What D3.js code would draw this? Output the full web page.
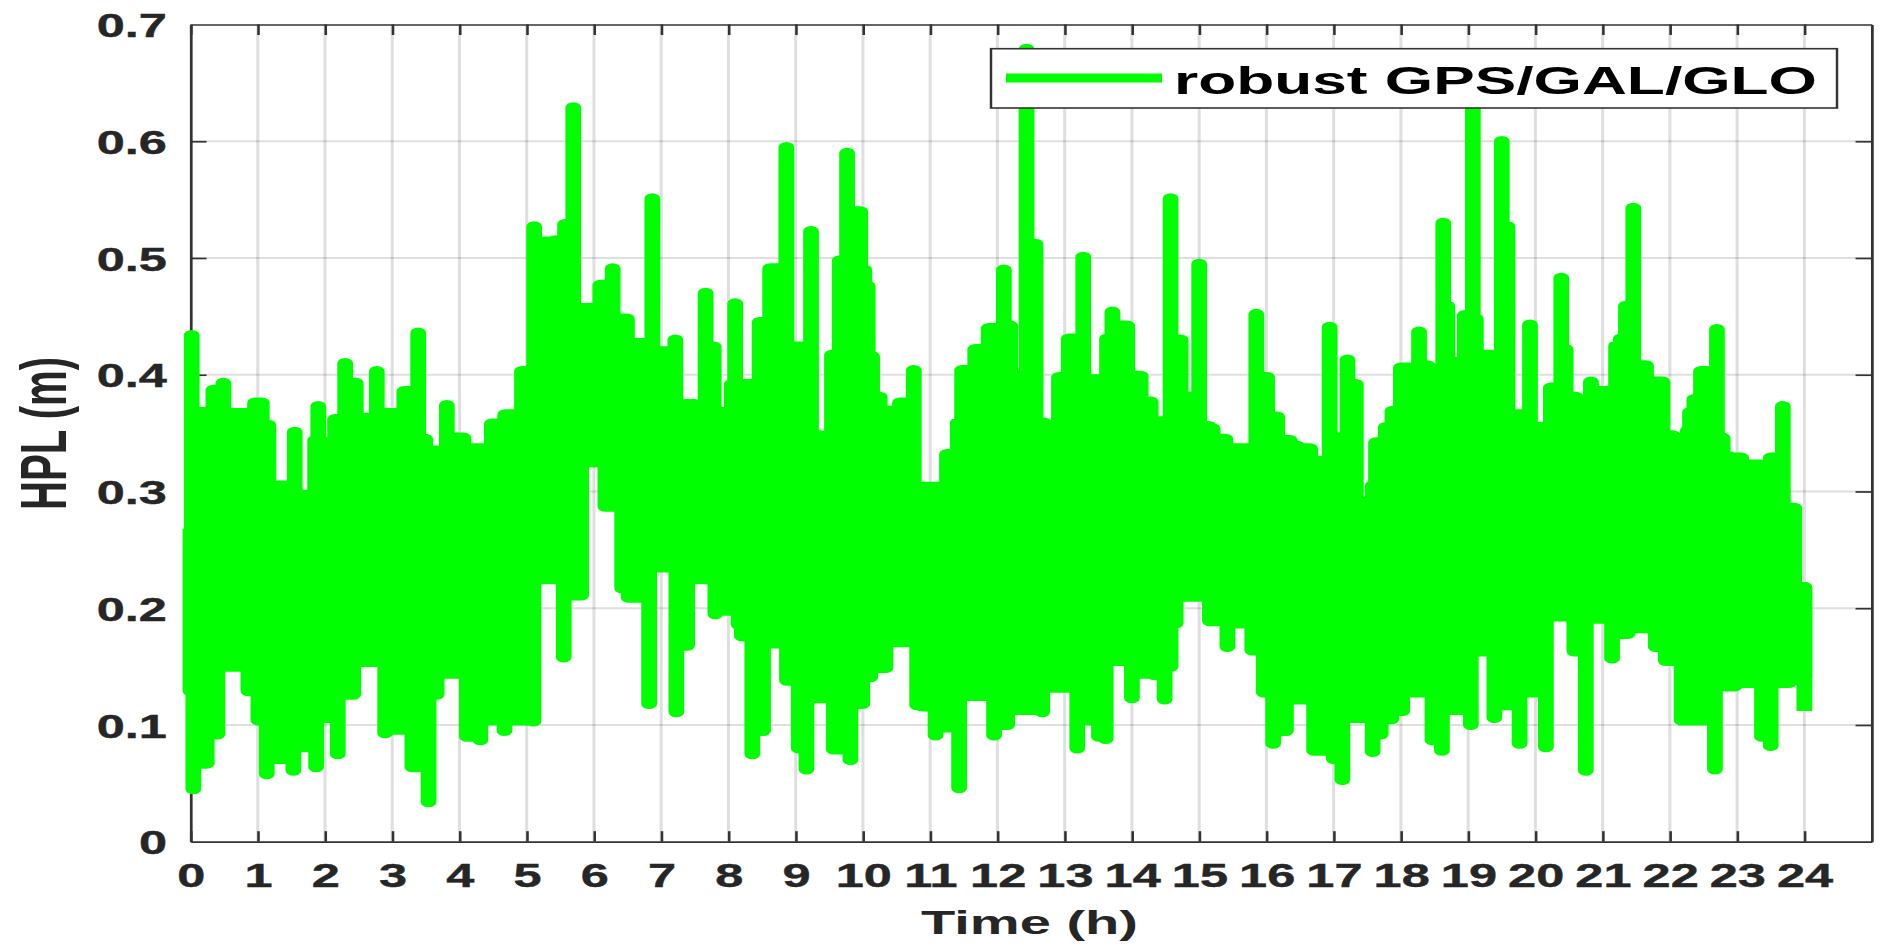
<!DOCTYPE html>
<html><head><meta charset="utf-8">
<script src="https://cdn.jsdelivr.net/npm/d3@7/dist/d3.min.js"></script>
<style>html,body{margin:0;padding:0;background:#fff;overflow:hidden}svg{display:block}</style>
</head><body><div id="chart"></div>
<script>
const peakHours=[0.018,0.201,0.34,0.489,0.737,0.96,1.06,1.158,1.357,1.55,1.68,1.853,1.9,1.977,2.15,2.3,2.458,2.57,2.77,3.02,3.18,3.386,3.49,3.564,3.812,4.06,4.234,4.482,4.68,4.93,5.11,5.25,5.425,5.57,5.692,5.896,6.094,6.278,6.49,6.665,6.868,7.04,7.21,7.385,7.557,7.66,7.78,7.88,8.05,8.1,8.326,8.464,8.62,8.861,9.02,9.228,9.367,9.43,9.54,9.655,9.764,9.96,10.02,10.07,10.136,10.25,10.38,10.55,10.756,11.05,11.25,11.41,11.475,11.67,11.87,12.095,12.19,12.27,12.433,12.567,12.69,12.79,12.915,13.06,13.276,13.46,13.63,13.71,13.93,14.13,14.28,14.427,14.575,14.725,14.85,15.0,15.146,15.2,15.39,15.62,15.85,16.01,16.16,16.35,16.46,16.65,16.86,16.94,17.08,17.205,17.33,17.45,17.63,17.775,17.875,18.0,18.27,18.395,18.495,18.63,18.69,18.866,18.95,19.07,19.115,19.29,19.5,19.585,19.735,19.92,20.06,20.23,20.385,20.45,20.6,20.677,20.826,21.0,21.2,21.27,21.347,21.456,21.645,21.89,22.04,22.155,22.265,22.3,22.364,22.463,22.7,22.785,22.885,23.06,23.346,23.5,23.68,23.85,24.0];
const peakHpl=[0.434,0.368,0.387,0.393,0.367,0.376,0.376,0.357,0.305,0.351,0.297,0.344,0.373,0.342,0.362,0.41,0.393,0.363,0.403,0.367,0.386,0.436,0.345,0.335,0.374,0.346,0.337,0.358,0.366,0.403,0.527,0.514,0.515,0.529,0.629,0.457,0.477,0.491,0.448,0.427,0.551,0.42,0.43,0.367,0.363,0.47,0.424,0.368,0.392,0.461,0.392,0.445,0.491,0.595,0.424,0.523,0.348,0.313,0.417,0.498,0.59,0.54,0.49,0.476,0.416,0.381,0.369,0.376,0.404,0.304,0.332,0.359,0.404,0.422,0.44,0.49,0.442,0.399,0.679,0.512,0.359,0.356,0.398,0.431,0.501,0.396,0.431,0.454,0.442,0.399,0.377,0.36,0.551,0.43,0.381,0.495,0.356,0.354,0.345,0.337,0.452,0.398,0.364,0.344,0.339,0.337,0.326,0.441,0.346,0.413,0.392,0.291,0.342,0.355,0.369,0.406,0.437,0.408,0.405,0.53,0.459,0.411,0.451,0.65,0.448,0.417,0.6,0.527,0.366,0.443,0.355,0.389,0.483,0.422,0.381,0.363,0.394,0.386,0.425,0.431,0.459,0.543,0.408,0.394,0.348,0.306,0.352,0.368,0.379,0.403,0.439,0.346,0.33,0.329,0.323,0.329,0.373,0.286,0.218];
const troughHours=[0.042,0.241,0.4,0.662,0.861,1.01,1.134,1.38,1.53,1.65,1.868,1.977,2.19,2.42,2.66,2.895,3.07,3.3,3.54,3.66,3.91,4.11,4.31,4.43,4.67,4.9,5.1,5.325,5.55,5.81,5.95,6.17,6.42,6.516,6.82,6.99,7.225,7.385,7.57,7.805,8.0,8.15,8.2,8.355,8.514,8.7,8.87,9.045,9.16,9.34,9.566,9.814,9.99,10.11,10.335,10.58,10.806,10.88,11.08,11.19,11.43,11.72,11.95,12.145,12.54,12.666,12.89,13.187,13.31,13.51,13.61,13.88,14.0,14.18,14.33,14.486,14.575,14.65,14.833,15.16,15.42,15.67,15.79,15.96,16.1,16.29,16.485,16.71,16.91,17.0,17.13,17.35,17.58,17.7,17.86,18.02,18.237,18.47,18.61,18.84,19.04,19.165,19.39,19.61,19.765,19.98,20.156,20.43,20.58,20.75,20.95,21.14,21.37,21.645,21.79,21.94,22.175,22.413,22.67,22.96,23.18,23.37,23.5,23.77];
const troughHpl=[0.045,0.067,0.092,0.15,0.129,0.104,0.058,0.071,0.061,0.081,0.064,0.106,0.075,0.126,0.154,0.093,0.096,0.064,0.034,0.126,0.144,0.09,0.087,0.104,0.095,0.104,0.103,0.233,0.158,0.211,0.328,0.287,0.217,0.209,0.118,0.235,0.111,0.168,0.234,0.195,0.198,0.186,0.176,0.075,0.095,0.17,0.138,0.08,0.062,0.123,0.079,0.07,0.118,0.141,0.149,0.171,0.117,0.116,0.091,0.098,0.046,0.125,0.091,0.1,0.113,0.111,0.132,0.08,0.104,0.09,0.088,0.155,0.123,0.144,0.143,0.122,0.15,0.187,0.21,0.189,0.167,0.187,0.164,0.128,0.084,0.095,0.122,0.078,0.078,0.071,0.053,0.106,0.077,0.092,0.105,0.112,0.128,0.087,0.078,0.113,0.1,0.163,0.106,0.117,0.084,0.128,0.081,0.193,0.163,0.061,0.191,0.157,0.178,0.183,0.167,0.155,0.104,0.104,0.062,0.133,0.136,0.09,0.082,0.136];
const firstSample=[0,0.268,0.129];   // hour, top and bottom of the stub at the start of the trace
const lastSample=[24,0.218,0.112];   // hour, top and bottom of the flat end of the trace
// inner edges of the solid band, read hour by hour (upper spikes start at the low edge, lower spikes at the high edge)
const bandLow=[0.195,0.175,0.185,0.185,0.185,0.225,0.325,0.265,0.225,0.205,0.215,0.185,0.195,0.205,0.205,0.215,0.195,0.155,0.195,0.215,0.205,0.215,0.185,0.185,0.14];
const bandHigh=[0.265,0.285,0.295,0.295,0.295,0.335,0.435,0.375,0.335,0.315,0.325,0.295,0.305,0.315,0.315,0.325,0.305,0.265,0.305,0.325,0.315,0.325,0.295,0.295,0.21];
const xTicks=d3.range(0,25);
const yTicks=[0,0.1,0.2,0.3,0.4,0.5,0.6,0.7];
const legendLabel="robust GPS/GAL/GLO";
const xLabel="Time (h)", yLabel="HPL (m)";

const W=1886,H=951,S=1.53; // the whole figure is stretched horizontally by S
const font='"Liberation Sans",Arial,Helvetica,sans-serif', ink='#262626', rule='#333';
const xs=d3.scaleLinear().domain([0,25]).range([190.5/S,1871.6/S]);
const ys=d3.scaleLinear().domain([0,0.7]).range([841.7,24.5]);
const svg=d3.select('#chart').append('svg').attr('width',W).attr('height',H);
svg.append('rect').attr('width',W).attr('height',H).attr('fill','#fff');
const g=svg.append('g').attr('transform',`scale(${S},1)`).attr('font-family',font);

// grid
g.append('g').selectAll('line').data(xTicks.slice(1)).join('line')
 .attr('x1',d=>xs(d)).attr('x2',d=>xs(d)).attr('y1',ys(0)).attr('y2',ys(0.7))
 .attr('stroke','#262626').attr('stroke-opacity',0.15).attr('stroke-width',2);
g.append('g').selectAll('line').data(yTicks.slice(1,-1)).join('line')
 .attr('x1',xs(0)).attr('x2',xs(25)).attr('y1',d=>ys(d)).attr('y2',d=>ys(d))
 .attr('stroke','#262626').attr('stroke-opacity',0.15).attr('stroke-width',2);

// axes
const tl=10.5;
const style=(sel,w)=>{sel.selectAll('.domain').attr('stroke',rule).attr('stroke-width',w);
 sel.selectAll('.tick line').attr('stroke',rule).attr('stroke-width',1.7);};
const axB=g.append('g').attr('transform',`translate(0,${ys(0)})`)
 .call(d3.axisBottom(xs).tickValues(xTicks).tickFormat(d3.format('d')).tickSizeInner(-tl).tickSizeOuter(0));
const axL=g.append('g').attr('transform',`translate(${xs(0)},0)`)
 .call(d3.axisLeft(ys).tickValues(yTicks).tickFormat(d=>d===0?'0':d3.format('.1f')(d)).tickSizeInner(-tl).tickSizeOuter(0));
const axT=g.append('g').attr('transform',`translate(0,${ys(0.7)})`)
 .call(d3.axisTop(xs).tickValues(xTicks).tickFormat('').tickSizeInner(-tl).tickSizeOuter(0));
const axR=g.append('g').attr('transform',`translate(${xs(25)},0)`)
 .call(d3.axisRight(ys).tickValues(yTicks).tickFormat('').tickSizeInner(-tl).tickSizeOuter(0));
style(axB,1.8);style(axL,1.8);style(axT,1.3);style(axR,1.8);
[axB,axL].forEach(a=>a.selectAll('text').attr('font-family',font).attr('font-weight','bold')
 .attr('font-size',33).attr('fill',ink).attr('stroke',ink).attr('stroke-width',0.4));
axB.selectAll('text').attr('y',45.3).attr('dy',0);
axL.selectAll('text').attr('x',-15.4).attr('dy',12.2);
[axL,axR].forEach(a=>a.selectAll('.tick').filter(d=>d===0||d===0.7).select('line').attr('stroke-opacity',0));

// trace: read extremes become near-vertical spikes out of the solid band;
// neighbouring tops (or bottoms) are joined at the lower (or higher) of the two, as the steps in the picture,
// and the stretch under each step is filled back to the band
function envelope(hours,values,edge,pick){
  const pts=[];
  hours.forEach((t,i)=>{
    const v=values[i], c=edge[Math.round(t)];
    pts.push([t,c],[t,v]);
    if(i<hours.length-1){
      const next=hours[i+1], level=pick(v,values[i+1]), mid=(t+next)/2, mc=edge[Math.round(mid)];
      pts.push([t,level],[mid,level],[mid,mc],[mid,level],[next,level]);
    }
  });
  return pts;
}
const upperTrace=envelope(peakHours,peakHpl,bandLow,Math.min);
const lowerTrace=[[firstSample[0],firstSample[1]],[firstSample[0],firstSample[2]],
  ...envelope(troughHours,troughHpl,bandHigh,Math.max),
  [lastSample[0],lastSample[1]],[lastSample[0],lastSample[2]]];
const lineGen=d3.line().x(d=>xs(d[0])).y(d=>ys(d[1]));
g.append('g').selectAll('path').data([upperTrace,lowerTrace]).join('path').attr('d',lineGen)
 .attr('fill','none').attr('stroke','#00ff00').attr('stroke-width',10.3)
 .attr('stroke-linejoin','round').attr('stroke-linecap','butt');

// legend
const lx0=991/S,lx1=1837/S,ly0=48.7,ly1=108;
const lg=g.append('g');
lg.append('rect').attr('x',lx0).attr('y',ly0).attr('width',lx1-lx0).attr('height',ly1-ly0)
 .attr('fill','#fff').attr('stroke',rule).attr('stroke-width',1.6);
lg.append('line').attr('x1',1006/S).attr('x2',1162/S).attr('y1',78).attr('y2',78)
 .attr('stroke','#00ff00').attr('stroke-width',9);
lg.append('text').attr('x',1174/S).attr('y',94).attr('font-size',38).attr('font-weight','bold')
 .attr('fill','#000').attr('textLength',643/S).attr('lengthAdjust','spacingAndGlyphs').text(legendLabel);

// axis titles
g.append('text').attr('x',1029.5/S).attr('y',934).attr('text-anchor','middle')
 .attr('font-size',34).attr('font-weight','bold').attr('fill',ink)
 .attr('textLength',217/S).attr('lengthAdjust','spacingAndGlyphs').text(xLabel);
g.append('text').attr('transform',`translate(${66/S},433.5) rotate(-90)`).attr('text-anchor','middle')
 .attr('font-size',42).attr('fill',ink).attr('font-weight','bold')
 .attr('textLength',153).attr('lengthAdjust','spacingAndGlyphs').text(yLabel);
</script></body></html>
